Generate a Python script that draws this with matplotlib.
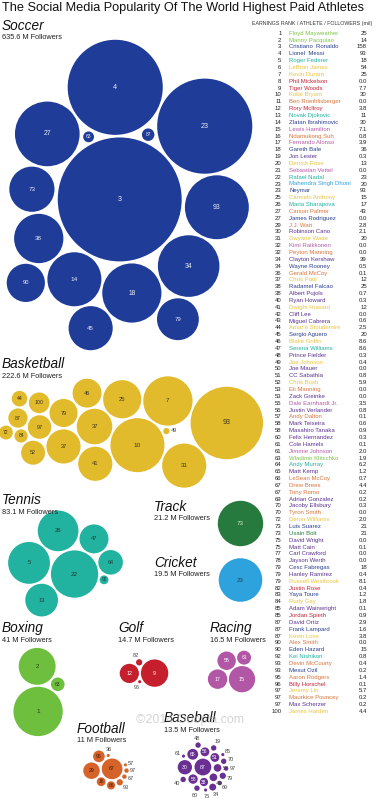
import numpy as np
import matplotlib
matplotlib.use('Agg')
import matplotlib.pyplot as plt
from matplotlib.patches import Circle

plt.rcParams['font.family'] = ['Liberation Sans', 'DejaVu Sans']

# bubble labels = earnings rank, bubble values = followers (millions)
soccer_ranks = [3, 4, 23, 27, 93, 34, 18, 14, 38, 73, 45, 79, 90, 87, 83]
soccer_followers = [158, 93, 93, 43, 42, 39, 36, 30, 25, 21, 20, 18, 15, 1.6, 1.2]

basketball_ranks = [93, 10, 7, 31, 25, 37, 41, 37, 46, 79, 52, 97, 100, 87, 44, 72, 84, 49]
basketball_followers = [54, 30, 25, 20, 15, 13, 12, 12, 8.6, 8.1, 5.9, 5.7, 4.4, 3.8, 2.5, 2.0, 1.8, 0.4]

tennis_ranks = [22, 5, 26, 13, 47, 64, 92]
tennis_followers = [23, 18, 17, 11, 8.6, 6.2, 0.8]

track_ranks = [73]
track_followers = [21.2]

cricket_ranks = [23]
cricket_followers = [19.5]

boxing_ranks = [1, 2, 63]
boxing_followers = [25, 14, 1.9]

golf_ranks = [9, 12, 82, 96]
golf_followers = [7.7, 3.8, 0.4, 0.1]

racing_ranks = [15, 17, 55, 61]
racing_followers = [7.1, 3.9, 3.5, 2.0]

football_ranks = [67, 29, 95, 16, 66, 93, 67, 97, 57, 36]
football_followers = [4.4, 2.8, 1.4, 0.8, 0.7, 0.4, 0.2, 0.2, 0.1, 0.1]

baseball_ranks = [87, 30, 65, 58, 56, 51, 38, 58, 43, 34, 79, 70, 60, 19, 48, 40, 69, 97, 61, 75, 85]
baseball_followers = [2.9, 2.1, 1.2, 0.9, 0.8, 0.8, 0.7, 0.6, 0.6, 0.5, 0.4, 0.3, 0.3, 0.3, 0.3, 0.3,
                      0.2, 0.2, 0.1, 0.1, 0.1]

sport_titles = ['Soccer', 'Basketball', 'Tennis', 'Track', 'Cricket', 'Boxing', 'Golf', 'Racing',
                'Football', 'Baseball']
sport_totals = ['635.6', '222.6', '83.1', '21.2', '19.5', '41', '14.7', '16.5', '11', '13.5']

# ranking table on the right
table_ranks = [1, 2, 3, 4, 5, 6, 7, 8, 9, 10, 11, 12, 13, 14, 15, 16, 17, 18, 19, 20,
               21, 22, 23, 23, 25, 26, 27, 27, 29, 30, 31, 32, 32, 34, 34, 36, 37, 38, 38, 40,
               41, 42, 43, 44, 45, 46, 47, 48, 49, 50, 51, 52, 53, 53, 55, 56, 57, 58, 58, 60,
               61, 61, 63, 64, 65, 66, 67, 67, 69, 70, 70, 72, 73, 73, 75, 75, 77, 78, 79, 79,
               79, 82, 83, 84, 85, 85, 87, 87, 87, 90, 90, 92, 93, 93, 95, 96, 97, 97, 97, 100]
table_names = [
    'Floyd Mayweather', 'Manny Pacquiao', 'Cristiano  Ronaldo', 'Lionel  Messi', 'Roger Federer',
    'LeBron James', 'Kevin Durant', 'Phil Mickelson', 'Tiger Woods', 'Kobe Bryant',
    'Ben Roethlisberger', 'Rory McIlroy', 'Novak Djokovic', 'Zlatan Ibrahimovic', 'Lewis Hamilton',
    'Ndamukong Suh', 'Fernando Alonso', 'Gareth Bale', 'Jon Lester', 'Derrick Rose',
    'Sebastian Vettel', 'Rafael Nadal', 'Mahendra Singh Dhoni', 'Neymar', 'Carmelo Anthony',
    'Maria Sharapova', 'Carson Palmer', 'James Rodriguez', 'J.J. Watt', 'Robinson Cano',
    'Dwyane Wade', 'Kimi Raikkonen', 'Peyton Manning', 'Clayton Kershaw', 'Wayne Rooney',
    'Gerald McCoy', 'Chris Paul', 'Radamel Falcao', 'Albert Pujols', 'Ryan Howard',
    'Dwight Howard', 'Cliff Lee', 'Miguel Cabrera', "Amar'e Stoudemire", 'Sergio Aguero',
    'Blake Griffin', 'Serena Williams', 'Prince Fielder', 'Joe Johnson', 'Joe Mauer',
    'CC Sabathia', 'Chris Bosh', 'Eli Manning', 'Zack Greinke', 'Dale Earnhardt Jr.',
    'Justin Verlander', 'Andy Dalton', 'Mark Teixeira', 'Masahiro Tanaka', 'Felix Hernandez',
    'Cole Hamels', 'Jimmie Johnson', 'Wladimir Klitschko', 'Andy Murray', 'Matt Kemp',
    'LeSean McCoy', 'Drew Brees', 'Tony Romo', 'Adrian Gonzalez', 'Jacoby Ellsbury',
    'Tyron Smith', 'Deron Williams', 'Luis Suarez', 'Usain Bolt', 'David Wright',
    'Matt Cain', 'Carl Crawford', 'Jayson Werth', 'Cesc Fabregas', 'Hanley Ramirez',
    'Russell Westbrook', 'Justin Rose', 'Yaya Toure', 'Rudy Gay', 'Adam Wainwright',
    'Jordan Spieth', 'David Ortiz', 'Frank Lampard', 'Kevin Love', 'Alex Smith',
    'Eden Hazard', 'Kei Nishikori', 'Devin McCourty', 'Mesut Ozil', 'Aaron Rodgers',
    'Billy Horschel', 'Jeremy Lin', 'Maurkice Pouncey', 'Max Scherzer', 'James Harden']
table_followers = [25, 14, 158, 93, 18, 54, 25, 0.0, 7.7, 30, 0.0, 3.8, 11, 30, 7.1, 0.8, 3.9, 36, 0.3, 13,
                   0.0, 23, 20, 93, 15, 17, 43, 0.0, 2.8, 2.1, 20, 0.0, 0.0, 39, 0.5, 0.1, 12, 25, 0.7, 0.3,
                   12, 0.0, 0.6, 2.5, 20, 8.6, 8.6, 0.3, 0.4, 0.0, 0.8, 5.9, 0.0, 0.0, 3.5, 0.8, 0.1, 0.6, 0.9, 0.3,
                   0.1, 2.0, 1.9, 6.2, 1.2, 0.7, 4.4, 0.2, 0.2, 0.3, 0.0, 2.0, 21, 21, 0.0, 0.1, 0.0, 0.0, 18, 0.4,
                   8.1, 0.4, 1.2, 1.8, 0.1, 0.9, 2.9, 1.6, 3.8, 0.0, 15, 0.8, 0.4, 0.2, 1.4, 0.1, 5.7, 0.2, 0.2, 4.4]
table_sports = ['box', 'box', 'soc', 'soc', 'ten', 'bas', 'bas', 'gol', 'gol', 'bas',
                'foo', 'gol', 'ten', 'soc', 'rac', 'foo', 'rac', 'soc', 'bsb', 'bas',
                'rac', 'ten', 'cri', 'soc', 'bas', 'ten', 'foo', 'soc', 'foo', 'bsb',
                'bas', 'rac', 'foo', 'bsb', 'soc', 'foo', 'bas', 'soc', 'bsb', 'bsb',
                'bas', 'bsb', 'bsb', 'bas', 'soc', 'bas', 'ten', 'bsb', 'bas', 'bsb',
                'bsb', 'bas', 'foo', 'bsb', 'rac', 'bsb', 'foo', 'bsb', 'bsb', 'bsb',
                'bsb', 'rac', 'box', 'ten', 'bsb', 'foo', 'foo', 'foo', 'bsb', 'bsb',
                'foo', 'bas', 'soc', 'trk', 'bsb', 'bsb', 'bsb', 'bsb', 'soc', 'bsb',
                'bas', 'gol', 'soc', 'bas', 'bsb', 'gol', 'bsb', 'soc', 'bas', 'foo',
                'soc', 'ten', 'foo', 'soc', 'foo', 'gol', 'bas', 'foo', 'bsb', 'bas']

# styles
bubble_color = {'soc': '#1f3d98', 'bas': '#e2bb2c', 'ten': '#22b2a0', 'trk': '#277a3d',
                'cri': '#2ea2dc', 'box': '#6fbf3f', 'gol': '#c51f2e', 'rac': '#b257a5',
                'foo': '#d6632a', 'bsb': '#6a2f93'}
name_color = {'soc': '#2a3f8f', 'bas': '#e8c441', 'ten': '#22b2a0', 'trk': '#2c7d40',
              'cri': '#2ea2dc', 'box': '#7fc34a', 'gol': '#c0263a', 'rac': '#b55aa7',
              'foo': '#d8743c', 'bsb': '#5a3290'}
label_color = {'soc': '#e8ecf7', 'bas': '#3b3322', 'ten': '#1f3d3a', 'trk': '#d6ead8',
               'cri': '#1d3f57', 'box': '#233d14', 'gol': '#ffffff', 'rac': '#ffffff',
               'foo': '#3d1a08', 'bsb': '#ffffff'}

K = 4.93  # pixels per sqrt(million followers), bubble area ~ followers

W, H = 379, 800
fig = plt.figure(figsize=(W / 100, H / 100), dpi=100)
ax = fig.add_axes([0, 0, 1, 1])
ax.set_xlim(0, W)
ax.set_ylim(H, 0)
ax.axis('off')


def pack(values, sx, sy, gap):
    # greedy start: each bubble tangent to two placed ones, close to the origin
    r = K * np.sqrt(np.asarray(values, dtype=float))
    order = sorted(range(len(r)), key=lambda i: -r[i])
    pos = np.zeros((len(r), 2))
    done = []
    for i in order:
        if len(done) == 1:
            d = r[i] + r[done[0]] + gap
            pos[i] = (-d, 0.0) if sx >= sy else (0.0, -d)
        elif len(done) > 1:
            best, best_score = None, np.inf
            for ai, a in enumerate(done):
                for b in done[ai + 1:]:
                    da = r[a] + r[i] + gap
                    db = r[b] + r[i] + gap
                    v = pos[b] - pos[a]
                    d = np.hypot(v[0], v[1])
                    if d == 0 or d > da + db or d < abs(da - db):
                        continue
                    t = (da ** 2 - db ** 2 + d ** 2) / (2 * d)
                    h = np.sqrt(max(da ** 2 - t ** 2, 0.0))
                    mid = pos[a] + t * v / d
                    perp = np.array([-v[1], v[0]]) / d
                    for cand in (mid + h * perp, mid - h * perp):
                        dist = np.hypot(*(pos[done] - cand).T)
                        if np.all(dist >= r[done] + r[i] + gap - 1e-6):
                            score = (cand[0] / sx) ** 2 + (cand[1] / sy) ** 2
                            if score < best_score:
                                best, best_score = cand, score
            pos[i] = best
        done.append(i)

    # relax: pull towards the weighted centre, then push overlaps apart
    n = len(r)
    if n > 2:
        m = r ** 2
        need = r[:, None] + r[None, :] + gap
        np.fill_diagonal(need, 0)
        w = m[None, :] / (m[:, None] + m[None, :])
        pull = np.array([1.0 / sx, 1.0 / sy])
        for it in range(600):
            if it < 500:
                c = (pos * m[:, None]).sum(0) / m.sum()
                pos = pos - 0.015 * (pos - c) * pull
            for _ in range(3):
                diff = pos[:, None, :] - pos[None, :, :]
                dist = np.hypot(diff[..., 0], diff[..., 1])
                np.fill_diagonal(dist, 1.0)
                ov = np.clip(need - dist, 0, None)
                np.fill_diagonal(ov, 0)
                unit = diff / dist[..., None]
                pos = pos + ((ov * w)[..., None] * unit).sum(1) * 0.9
    return pos, r


def cluster(ranks, values, key, center, sx=1.0, sy=1.0, gap=1.5):
    pos, r = pack(values, sx, sy, gap)
    lo = (pos - r[:, None]).min(0)
    hi = (pos + r[:, None]).max(0)
    pos = pos - (lo + hi) / 2 + np.array(center)
    for p, rad, rk, v in zip(pos, r, ranks, values):
        ax.add_patch(Circle(p, rad, facecolor=bubble_color[key], edgecolor='none'))
        if v < 0.65:
            d = p - np.array(center)
            nd = np.hypot(d[0], d[1])
            d = d / nd if nd > 0 else np.array([1.0, 0.0])
            q = p + d * (rad + 4.5)
            ax.text(q[0], q[1], str(rk), fontsize=4, color='#444444', ha='center', va='center')
        else:
            fs = float(np.clip(rad * 0.05 + 3.3, 3.3, 5.2))
            ax.text(p[0], p[1], str(rk), fontsize=fs, color=label_color[key],
                    ha='center', va='center')


cluster(soccer_ranks, soccer_followers, 'soc', (129.5, 195), 0.9, 1.0, 2.5)
cluster(basketball_ranks, basketball_followers, 'bas', (131, 432), 7.0, 1.0, 2.0)
cluster(tennis_ranks, tennis_followers, 'ten', (65.5, 563.5), 1.4, 1.0, 2.0)
cluster(track_ranks, track_followers, 'trk', (240.5, 523.5))
cluster(cricket_ranks, cricket_followers, 'cri', (240.5, 580))
cluster(boxing_ranks, boxing_followers, 'box', (39, 692), 1.0, 1.8, 2.0)
cluster(golf_ranks, golf_followers, 'gol', (144, 673), 1.3, 1.0, 2.0)
cluster(racing_ranks, racing_followers, 'rac', (231.5, 671.5), 1.0, 1.0, 1.5)
cluster(football_ranks, football_followers, 'foo', (106, 770), 1.15, 1.0, 2.0)
cluster(baseball_ranks, baseball_followers, 'bsb', (203, 767), 1.0, 1.0, 2.5)

# headings
ax.text(2, 11.5, 'The Social Media Popularity Of The World Highest Paid Athletes',
        fontsize=9.2, color='#111111', ha='left', va='baseline')
heading_xy = [(2, 29.5), (2, 368), (2, 504.5), (154, 511), (154, 567), (2, 632),
              (118, 632), (210, 632), (77, 733), (164, 722)]
for title, total, (hx, hy) in zip(sport_titles, sport_totals, heading_xy):
    ax.text(hx, hy, title, fontsize=9.8, style='italic', color='#111111',
            ha='left', va='baseline')
    ax.text(hx, hy + 9.5, total + ' M Followers', fontsize=5.3, color='#222222',
            ha='left', va='baseline')

# table
ax.text(372, 25, 'EARNINGS RANK / ATHLETE / FOLLOWERS (mil)', fontsize=3.8,
        color='#333333', ha='right', va='baseline')
for j, (rk, nm, fv, sp) in enumerate(zip(table_ranks, table_names, table_followers, table_sports)):
    y = 33.3 + j * 6.85
    ax.text(281.5, y, str(rk), fontsize=4.3, color='#222222', ha='right', va='center')
    ax.text(289, y, nm, fontsize=4.3, color=name_color[sp], ha='left', va='center')
    val = '%d' % fv if fv >= 10 else '%.1f' % fv
    ax.text(367, y, val, fontsize=4.3, color='#222222', ha='right', va='center')

# watermark
ax.text(190, 720, '\u00a92014 Ooopia.com', fontsize=9, color='#b8b8b8', alpha=0.6,
        ha='center', va='center')

fig.savefig('out.png', dpi=100)
